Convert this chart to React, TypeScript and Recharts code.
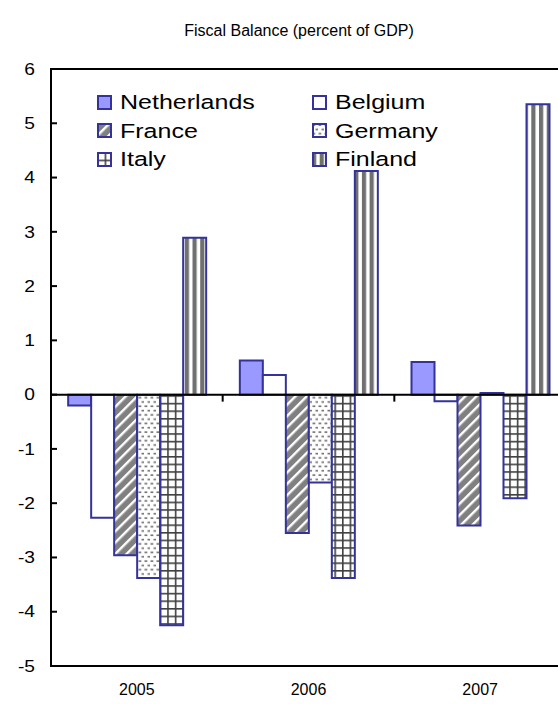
import React from 'react';
import { BarChart, Bar, XAxis, YAxis, ReferenceLine, ReferenceArea, Legend } from 'recharts';

// Fiscal balance by country, percent of GDP
const years = ['2005', '2006', '2007'];
const netherlands = [-0.2, 0.63, 0.6];
const belgium = [-2.27, 0.36, -0.12];
const france = [-2.96, -2.55, -2.41];
const germany = [-3.38, -1.62, 0.03];
const italy = [-4.25, -3.38, -1.91];
const finland = [2.89, 4.12, 5.35];
const yTicks = [-5, -4, -3, -2, -1, 0, 1, 2, 3, 4, 5, 6];

const FONT = '"Liberation Sans", Arial, sans-serif';
const EDGE = '#333399';

const series = [
  { key: 'netherlands', name: 'Netherlands', fill: '#9999FF' },
  { key: 'belgium', name: 'Belgium', fill: '#FFFFFF' },
  { key: 'france', name: 'France', fill: 'url(#pFrance)' },
  { key: 'germany', name: 'Germany', fill: 'url(#pGermany)' },
  { key: 'italy', name: 'Italy', fill: 'url(#pItaly)' },
  { key: 'finland', name: 'Finland', fill: 'url(#pFinland)' },
];

const data = years.map((year, i) => ({
  year,
  netherlands: netherlands[i],
  belgium: belgium[i],
  france: france[i],
  germany: germany[i],
  italy: italy[i],
  finland: finland[i],
}));

const YTick = (props: any) => {
  const { x, y, payload } = props;
  return (
    <g>
      <line x1={x} x2={x + 6} y1={y} y2={y} stroke="#000" strokeWidth={2} />
      <text
        transform={`translate(${x - 16},${y}) scale(1.2,1)`}
        dy="0.36em"
        textAnchor="end"
        fontSize={16}
        fontFamily={FONT}
        fill="#000"
      >
        {payload.value}
      </text>
    </g>
  );
};

const XTick = (props: any) => {
  const { x, y, payload } = props;
  return (
    <text x={x} y={y + 29} textAnchor="middle" fontSize={16} fontFamily={FONT} fill="#000">
      {payload.value}
    </text>
  );
};

// Zero line with downward tick marks at the boundaries between year groups
const ZeroLine = (props: any) => {
  const { x1, x2, y1 } = props;
  const step = (x2 - x1) / years.length;
  const marks = [];
  for (let i = 1; i < years.length; i++) {
    const mx = x1 + step * i;
    marks.push(<line key={i} x1={mx} x2={mx} y1={y1} y2={y1 + 7} stroke="#000" strokeWidth={2} />);
  }
  return (
    <g>
      <line x1={x1} x2={x2} y1={y1} y2={y1} stroke="#000" strokeWidth={2} />
      {marks}
    </g>
  );
};

const LegendBox = (props: any) => {
  const entries = props.payload || [];
  // keep series order (Netherlands, Belgium / France, Germany / Italy, Finland)
  const ordered = series
    .map((s) => entries.find((e: any) => e.value === s.name))
    .filter(Boolean);
  return (
    <div style={{ position: 'relative', width: 360, height: 82, fontFamily: FONT }}>
      {ordered.map((entry: any, i: number) => {
        const col = i % 2;
        const row = Math.floor(i / 2);
        return (
          <div
            key={entry.value}
            style={{
              position: 'absolute',
              left: col * 215,
              top: row * 28.5,
              height: 24,
              display: 'flex',
              alignItems: 'center',
              whiteSpace: 'nowrap',
            }}
          >
            <svg width={15} height={15} style={{ display: 'block' }}>
              <rect x={1} y={1} width={13} height={13} fill={entry.color} stroke={EDGE} strokeWidth={2} />
            </svg>
            <span
              style={{
                marginLeft: 8,
                fontSize: 20.5,
                lineHeight: '24px',
                color: '#000',
                display: 'inline-block',
                transform: 'scaleX(1.22)',
                transformOrigin: 'left center',
              }}
            >
              {entry.value}
            </span>
          </div>
        );
      })}
    </div>
  );
};

export default function App() {
  return (
    <div style={{ position: 'absolute', left: 0, top: 0, width: 558, height: 704, overflow: 'hidden', background: '#fff' }}>
      <div
        style={{
          position: 'absolute',
          left: 0,
          top: 22,
          width: 598,
          textAlign: 'center',
          fontFamily: FONT,
          fontSize: 16,
          color: '#000',
        }}
      >
        Fiscal Balance (percent of GDP)
      </div>
      <BarChart
        width={566}
        height={704}
        data={data}
        margin={{ top: 69, right: 0, bottom: 8, left: 0 }}
        barCategoryGap="10%"
        barGap={0}
      >
        <defs>
          <pattern id="pFrance" patternUnits="userSpaceOnUse" width={8} height={8} patternTransform="rotate(45)">
            <rect width={8} height={8} fill="#808080" />
            <rect x={0} width={2.4} height={8} fill="#ffffff" />
          </pattern>
          <pattern id="pGermany" patternUnits="userSpaceOnUse" width={6} height={8.6}>
            <rect width={6} height={8.6} fill="#ffffff" />
            <rect x={0.5} y={1.3} width={2.8} height={1.6} fill="#707070" />
            <rect x={3.5} y={5.6} width={2.8} height={1.6} fill="#707070" />
          </pattern>
          <pattern id="pItaly" patternUnits="userSpaceOnUse" width={7.6} height={7.6}>
            <rect width={7.6} height={7.6} fill="#ffffff" />
            <rect x={0} y={0} width={1.6} height={7.6} fill="#404040" />
            <rect x={0} y={0} width={7.6} height={1.6} fill="#404040" />
          </pattern>
          <pattern id="pFinland" patternUnits="userSpaceOnUse" width={7.7} height={8}>
            <rect width={7.7} height={8} fill="#ffffff" />
            <rect x={0} y={0} width={4.2} height={8} fill="#707070" />
          </pattern>
        </defs>
        <ReferenceArea y1={-5} y2={6} fill="none" stroke="#000" strokeWidth={2} ifOverflow="visible" />
        <XAxis
          dataKey="year"
          height={30}
          axisLine={false}
          tickLine={false}
          tickSize={0}
          tickMargin={0}
          tick={<XTick />}
          interval={0}
        />
        <YAxis
          width={51}
          domain={[-5, 6]}
          ticks={yTicks}
          interval={0}
          allowDataOverflow
          axisLine={{ stroke: '#000', strokeWidth: 2 }}
          tickLine={false}
          tickSize={0}
          tickMargin={0}
          tick={<YTick />}
        />
        <Legend
          layout="horizontal"
          verticalAlign="middle"
          align="center"
          content={<LegendBox />}
          wrapperStyle={{ left: 97, top: 90, width: 360, height: 82 }}
        />
        {series.map((s) => (
          <Bar
            key={s.key}
            dataKey={s.key}
            name={s.name}
            fill={s.fill}
            stroke={EDGE}
            strokeWidth={2}
            isAnimationActive={false}
          />
        ))}
        <ReferenceLine y={0} shape={<ZeroLine />} ifOverflow="visible" />
      </BarChart>
    </div>
  );
}
